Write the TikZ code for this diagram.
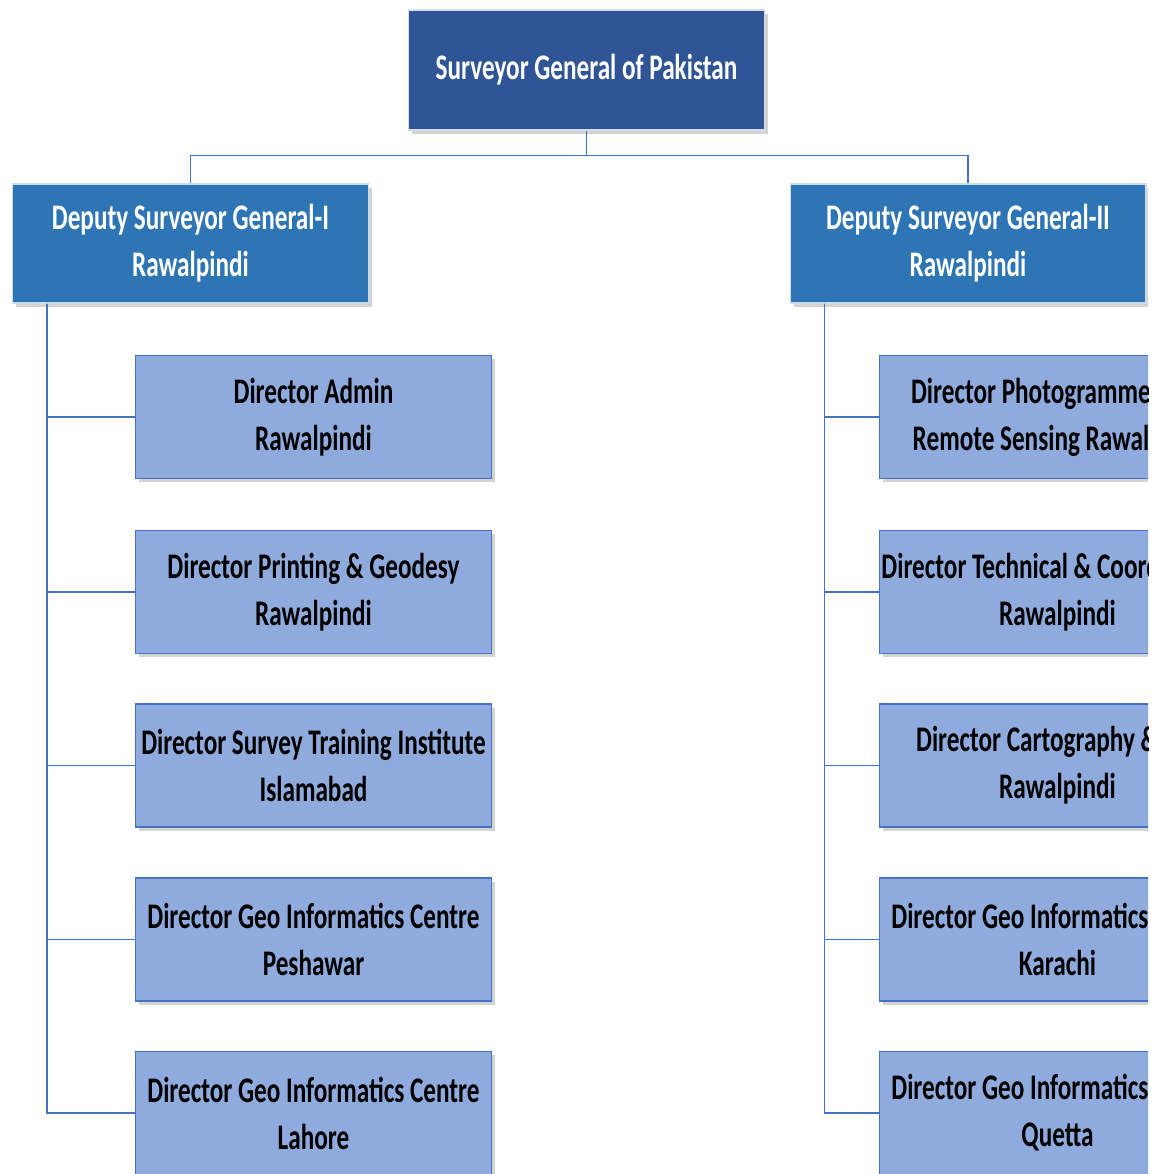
\documentclass[tikz,border=0pt]{standalone}
\usepackage{fontspec}
\setmainfont{Carlito}[FakeStretch=0.70]
\usetikzlibrary{shadows}

\definecolor{sgblue}{HTML}{2F5597}
\definecolor{dsgblue}{HTML}{2E75B6}
\definecolor{dirblue}{HTML}{8FAADC}
\definecolor{linkblue}{HTML}{4472C4}

\tikzset{
  boxtext/.style={font=\bfseries\fontsize{20.5}{26.7}\selectfont, align=center, inner sep=0pt},
  sgbox/.style={boxtext, fill=sgblue, draw=white!80!sgblue, line width=0.6pt, text=white,
    minimum width=7.14cm, minimum height=2.4cm,
    drop shadow={shadow xshift=2pt, shadow yshift=-2pt, opacity=0.35}},
  dsgbox/.style={boxtext, fill=dsgblue, draw=white!75!dsgblue, line width=0.6pt, text=white,
    minimum width=7.12cm, minimum height=2.38cm,
    drop shadow={shadow xshift=2pt, shadow yshift=-2pt, opacity=0.35}},
  dirbox/.style={boxtext, fill=dirblue, draw=linkblue, line width=0.6pt, text=black,
    minimum width=7.14cm, minimum height=2.46cm,
    drop shadow={shadow xshift=2pt, shadow yshift=-2pt, opacity=0.35}},
  link/.style={draw=linkblue, line width=0.6pt}
}

\begin{document}
\begin{tikzpicture}[x=0.02cm, y=-0.02cm]
  \useasboundingbox (0,0) rectangle (1168,1174);
  \clip (0,0) rectangle (1148,1174);

  % top level
  \node[sgbox] (sg) at (586.5,70) {Surveyor General of Pakistan};

  % deputies
  \node[dsgbox] (dsgA) at (190.5,243.5) {Deputy Surveyor General-I\\Rawalpindi};
  \node[dsgbox] (dsgB) at (968,243.5) {Deputy Surveyor General-II\\Rawalpindi};

  \draw[link] (sg.south) -- ++(0,25) coordinate (fork) -| (dsgA.north);
  \draw[link] (fork) -| (dsgB.north);

  % directors under DSG-I
  \node[dirbox] (dirA1) at (313.5,417) {Director Admin\\Rawalpindi};
  \node[dirbox] (dirA2) at (313.5,592) {Director Printing \& Geodesy\\Rawalpindi};
  \node[dirbox] (dirA3) at (313.5,765.5) {Director Survey Training Institute\\Islamabad};
  \node[dirbox] (dirA4) at (313.5,939.5) {Director Geo Informatics Centre\\Peshawar};
  \node[dirbox] (dirA5) at (313.5,1113) {Director Geo Informatics Centre\\Lahore};

  % directors under DSG-II
  \node[dirbox] (dirB1) at (1057.5,417) {Director Photogrammetry \&\\Remote Sensing Rawalpindi};
  \node[dirbox] (dirB2) at (1057.5,592) {Director Technical \& Coordination\\Rawalpindi};
  \node[dirbox] (dirB3) at (1057.5,765.5) {Director Cartography \& GIS\\Rawalpindi};
  \node[dirbox] (dirB4) at (1057.5,939.5) {Director Geo Informatics Centre\\Karachi};
  \node[dirbox] (dirB5) at (1057.5,1113) {Director Geo Informatics Centre\\Quetta};

  % spines
  \coordinate (spineA) at ([xshift=35*0.02cm]dsgA.south west);
  \coordinate (spineB) at ([xshift=35*0.02cm]dsgB.south west);
  \foreach \i in {1,...,5} {
    \draw[link] (spineA) |- (dirA\i.west);
    \draw[link] (spineB) |- (dirB\i.west);
  }
\end{tikzpicture}
\end{document}
